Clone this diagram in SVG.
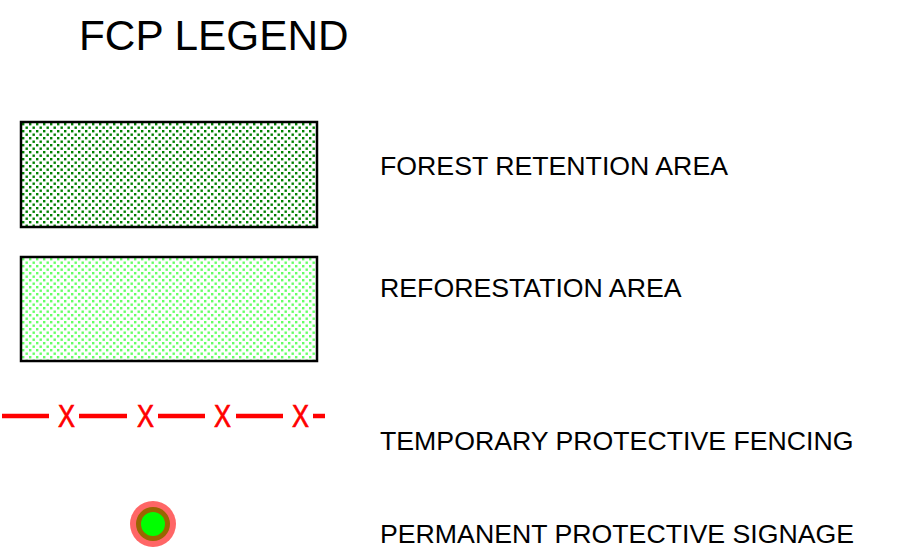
<svg xmlns="http://www.w3.org/2000/svg" width="898" height="553" viewBox="0 0 898 553">
  <defs>
    <!-- stipple fills for the area swatches -->
    <pattern id="dotsDark" x="21" y="122" width="7" height="7" patternUnits="userSpaceOnUse">
      <rect x="1" y="1" width="2.4" height="2.4" fill="#008000"/>
      <rect x="4.5" y="4.5" width="2.4" height="2.4" fill="#008000"/>
    </pattern>
    <pattern id="dotsLight" x="21" y="257" width="7" height="7" patternUnits="userSpaceOnUse">
      <rect x="1" y="1" width="2.4" height="2.4" fill="#66ff66"/>
      <rect x="4.5" y="4.5" width="2.4" height="2.4" fill="#66ff66"/>
    </pattern>
    <style>
      .label { font-family: "Liberation Sans", Arial, sans-serif; font-size: 26.7px; fill: #000; }
      .title { font-family: "Liberation Sans", Arial, sans-serif; font-size: 42.3px; fill: #000; }
      .swatch { stroke: #000; stroke-width: 2.5; }
      .fence { stroke: #ff0000; stroke-width: 4.5; }
      .fenceX { font-family: "Liberation Sans", Arial, sans-serif; font-size: 31px; fill: #ff0000; stroke: #ff0000; stroke-width: 0.7; }
    </style>
  </defs>
  <rect width="898" height="553" fill="#ffffff"/>

  <text class="title" x="79" y="50">FCP LEGEND</text>

  <g id="forest-retention">
    <rect class="swatch" x="21" y="122" width="296" height="105" fill="url(#dotsDark)"/>
    <text class="label" x="380" y="175">FOREST RETENTION AREA</text>
  </g>

  <g id="reforestation">
    <rect class="swatch" x="21" y="257" width="296" height="104" fill="url(#dotsLight)"/>
    <text class="label" x="380" y="297">REFORESTATION AREA</text>
  </g>

  <g id="temporary-fencing">
    <g class="fence">
      <line x1="2" y1="416" x2="49" y2="416"/>
      <line x1="79" y1="416" x2="127" y2="416"/>
      <line x1="158" y1="416" x2="205" y2="416"/>
      <line x1="236" y1="416" x2="283" y2="416"/>
      <line x1="313" y1="416" x2="325" y2="416"/>
    </g>
    <g class="fenceX" text-anchor="middle">
      <text x="66.5" y="427" textLength="17" lengthAdjust="spacingAndGlyphs">X</text>
      <text x="145.5" y="427" textLength="17" lengthAdjust="spacingAndGlyphs">X</text>
      <text x="222.5" y="427" textLength="17" lengthAdjust="spacingAndGlyphs">X</text>
      <text x="300.5" y="427" textLength="17" lengthAdjust="spacingAndGlyphs">X</text>
    </g>
    <text class="label" x="380" y="450">TEMPORARY PROTECTIVE FENCING</text>
  </g>

  <g id="permanent-signage">
    <circle cx="153" cy="524" r="23" fill="#ff6666"/>
    <circle cx="153" cy="524" r="17" fill="#996600"/>
    <circle cx="153" cy="524" r="12" fill="#00ff00"/>
    <text class="label" x="380" y="543">PERMANENT PROTECTIVE SIGNAGE</text>
  </g>
</svg>
